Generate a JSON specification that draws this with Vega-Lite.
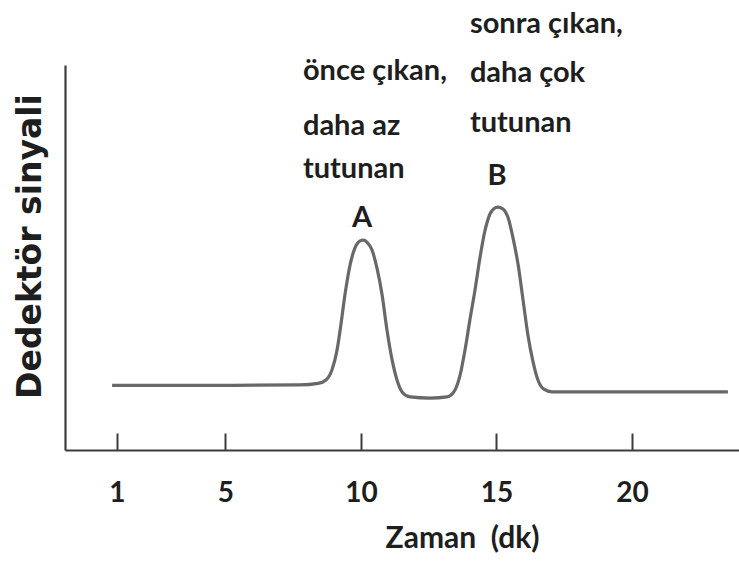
{
  "$schema": "https://vega.github.io/schema/vega-lite/v6.json",
  "autosize": "none",
  "width": 674,
  "height": 385,
  "padding": {"left": 65, "top": 65, "right": 0, "bottom": 113},
  "background": "white",
  "config": {"view": {"stroke": null}},
  "datasets": {
    "curve": [
      {"t": 0.82, "v": 16.8}, {"t": 4.06, "v": 16.8}, {"t": 7.75, "v": 16.9},
      {"t": 8.42, "v": 17.3}, {"t": 8.71, "v": 18.2}, {"t": 8.93, "v": 20.8},
      {"t": 9.12, "v": 26.0}, {"t": 9.26, "v": 32.5}, {"t": 9.41, "v": 40.3},
      {"t": 9.60, "v": 48.1}, {"t": 9.78, "v": 52.5}, {"t": 9.97, "v": 54.3},
      {"t": 10.08, "v": 54.5}, {"t": 10.22, "v": 54.0}, {"t": 10.41, "v": 51.9},
      {"t": 10.59, "v": 47.3}, {"t": 10.78, "v": 40.3}, {"t": 10.96, "v": 31.2},
      {"t": 11.15, "v": 23.4}, {"t": 11.33, "v": 18.2}, {"t": 11.55, "v": 14.8},
      {"t": 11.81, "v": 13.8}, {"t": 12.55, "v": 13.5}, {"t": 13.18, "v": 13.8},
      {"t": 13.47, "v": 15.6}, {"t": 13.66, "v": 19.5}, {"t": 13.84, "v": 26.0},
      {"t": 14.02, "v": 33.8}, {"t": 14.21, "v": 41.6}, {"t": 14.39, "v": 49.9},
      {"t": 14.58, "v": 57.1}, {"t": 14.76, "v": 61.3}, {"t": 14.95, "v": 62.9},
      {"t": 15.06, "v": 63.1}, {"t": 15.24, "v": 62.6}, {"t": 15.43, "v": 60.3},
      {"t": 15.61, "v": 55.1}, {"t": 15.80, "v": 48.1}, {"t": 15.98, "v": 39.0},
      {"t": 16.16, "v": 29.9}, {"t": 16.35, "v": 22.9}, {"t": 16.53, "v": 18.2},
      {"t": 16.75, "v": 15.8}, {"t": 17.05, "v": 15.1}, {"t": 18.82, "v": 15.1},
      {"t": 23.54, "v": 15.1}
    ],
    "notes": [
      {"t": 7.86, "v": 96.1, "label": "önce çıkan,"},
      {"t": 7.86, "v": 81.8, "label": "daha az"},
      {"t": 7.86, "v": 70.6, "label": "tutunan"},
      {"t": 14.02, "v": 108.3, "label": "sonra çıkan,"},
      {"t": 14.02, "v": 95.6, "label": "daha çok"},
      {"t": 14.02, "v": 82.6, "label": "tutunan"}
    ],
    "peaks": [
      {"t": 10.04, "v": 57.9, "label": "A"},
      {"t": 15.02, "v": 68.8, "label": "B"}
    ]
  },
  "layer": [
    {
      "data": {"name": "curve"},
      "mark": {"type": "line", "interpolate": "monotone", "stroke": "#686868", "strokeWidth": 3.2},
      "encoding": {
        "x": {
          "field": "t", "type": "quantitative",
          "scale": {"domain": [-0.918, 23.948], "nice": false, "zero": false},
          "axis": {
            "values": [1, 5, 10, 15, 20], "format": "d",
            "title": "Zaman\u00a0\u00a0(dk)",
            "titleFont": "Lato", "titleFontSize": 30, "titleFontWeight": "bold", "titleColor": "#1e1e1e",
            "titleX": 397, "titleY": 97, "titleBaseline": "alphabetic", "titleAnchor": null, "titleAlign": "center",
            "labelFont": "Lato", "labelFontSize": 28, "labelFontWeight": "bold", "labelColor": "#1e1e1e",
            "labelBaseline": "top", "labelPadding": 46,
            "tickSize": -17, "tickColor": "#3c3c3c", "tickWidth": 2,
            "domainColor": "#3c3c3c", "domainWidth": 2.2,
            "grid": false, "labelFlush": false, "labelOverlap": false
          }
        },
        "y": {
          "field": "v", "type": "quantitative",
          "scale": {"domain": [0, 100], "nice": false, "zero": false},
          "axis": {
            "title": "Dedektör sinyali",
            "titleFont": "DejaVu Sans", "titleFontSize": 33, "titleFontWeight": "bold", "titleColor": "#1e1e1e",
            "titleX": -35, "titleY": 181, "titleAngle": 270, "titleAlign": "center", "titleBaseline": "middle",
            "labels": false, "ticks": false, "grid": false,
            "domainColor": "#3c3c3c", "domainWidth": 2.2
          }
        }
      }
    },
    {
      "data": {"name": "notes"},
      "mark": {"type": "text", "align": "left", "baseline": "alphabetic", "font": "Lato", "fontSize": 29, "fontWeight": "bold", "color": "#1e1e1e"},
      "encoding": {
        "x": {"field": "t", "type": "quantitative"},
        "y": {"field": "v", "type": "quantitative"},
        "text": {"field": "label"}
      }
    },
    {
      "data": {"name": "peaks"},
      "mark": {"type": "text", "align": "center", "baseline": "alphabetic", "font": "Lato", "fontSize": 29, "fontWeight": "bold", "color": "#1e1e1e"},
      "encoding": {
        "x": {"field": "t", "type": "quantitative"},
        "y": {"field": "v", "type": "quantitative"},
        "text": {"field": "label"}
      }
    }
  ]
}
